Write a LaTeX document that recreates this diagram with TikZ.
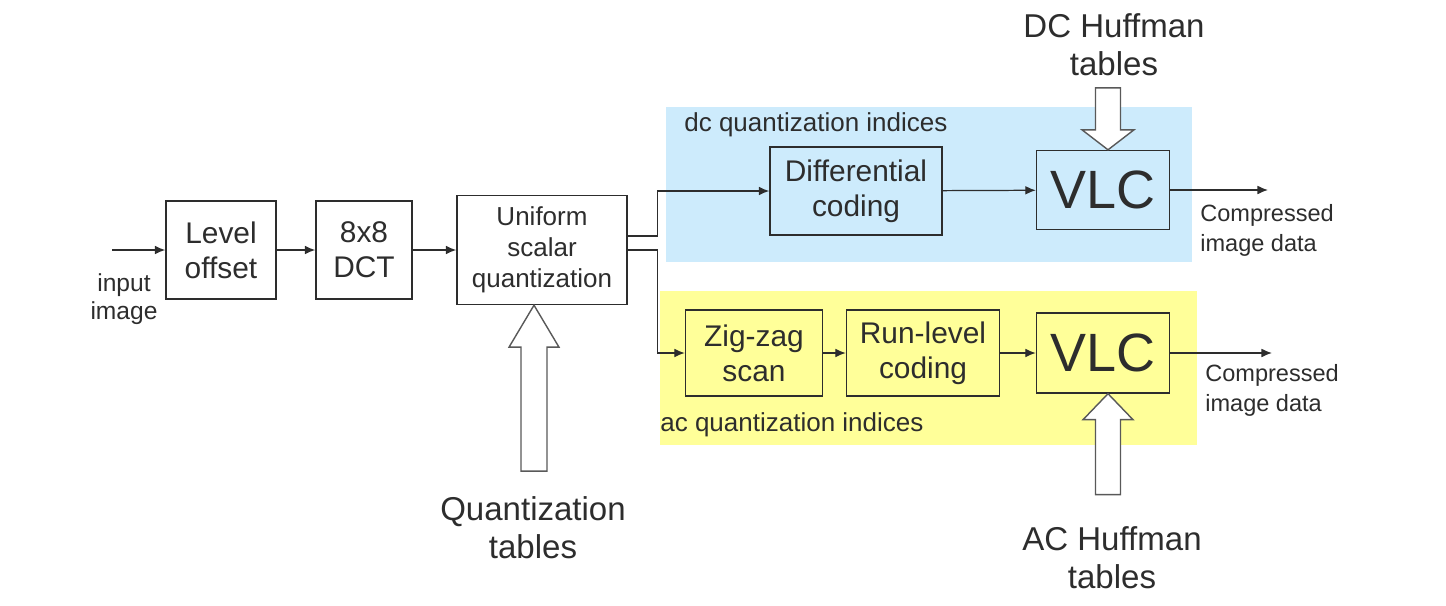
\documentclass[tikz,border=0pt]{standalone}
\usepackage{fontspec}
\setmainfont{Liberation Sans}
\usetikzlibrary{arrows.meta,calc}

\definecolor{dcblue}{RGB}{205,235,252}
\definecolor{acyellow}{RGB}{255,255,153}
\definecolor{inkgray}{RGB}{45,45,45}

\tikzset{
  blk/.style={draw=inkgray, line width=0.8pt, align=center, inner sep=0pt,
    font=\fontsize{17}{20}\selectfont},
  flow/.style={-{Latex[length=6pt,width=5pt]}, line width=0.7pt, draw=inkgray},
  hollow/.style={draw=gray!70!black, line width=0.8pt, fill=white},
  biglabel/.style={align=center, inner sep=0pt, font=\fontsize{18.8}{21.6}\selectfont},
  smalllabel/.style={align=left, inner sep=0pt, font=\fontsize{13.4}{17}\selectfont},
}

\begin{document}
\begin{tikzpicture}[x=0.02cm, y=-0.02cm, text=inkgray]
  \useasboundingbox (0,0) rectangle (1446,605);

  % coloured bands
  \fill[dcblue] (666,107) rectangle (1192,262);
  \fill[acyellow] (660,291) rectangle (1197,445);

  % main chain
  \node[blk, minimum width=2.2cm, minimum height=1.96cm] (lvl) at (221,250) {Level\\offset};
  \node[blk, minimum width=1.92cm, minimum height=1.96cm] (dct) at (364,250) {8x8\\DCT};
  \node[blk, minimum width=3.4cm, minimum height=2.18cm,
        font=\fontsize{14.8}{17.6}\selectfont] (quant) at (542,250) {Uniform\\scalar\\quantization};

  % dc branch
  \node[blk, minimum width=3.44cm, minimum height=1.76cm] (diff) at (856,191) {Differential\\coding};
  \node[blk, minimum width=2.66cm, minimum height=1.58cm,
        font=\fontsize{30.7}{34}\selectfont] (vlcdc) at (1103,190) {VLC};

  % ac branch
  \node[blk, minimum width=2.74cm, minimum height=1.72cm] (zig) at (754,353) {Zig-zag\\scan};
  \node[blk, minimum width=3.06cm, minimum height=1.72cm] (run) at (923,353) {Run-level\\coding};
  \node[blk, minimum width=2.66cm, minimum height=1.6cm,
        font=\fontsize{30.7}{34}\selectfont] (vlcac) at (1103,353) {VLC};

  % labels
  \node[smalllabel, align=center, font=\fontsize{14}{16}\selectfont] (inlbl) at (124,299) {input\\image};
  \node[smalllabel, anchor=west, font=\fontsize{14.8}{17}\selectfont] (dclbl) at (684,125) {dc quantization indices};
  \node[smalllabel, anchor=west, font=\fontsize{14.8}{17}\selectfont] (aclbl) at (660,425) {ac quantization indices};
  \node[smalllabel, anchor=west] (outdclbl) at (1200,230) {Compressed\\image data};
  \node[smalllabel, anchor=west] (outaclbl) at (1205,390) {Compressed\\image data};
  \node[biglabel] (qtab) at (533,528) {Quantization\\tables};
  \node[biglabel] (dctab) at (1114,45) {DC Huffman\\tables};
  \node[biglabel] (actab) at (1112,558) {AC Huffman\\tables};

  % free ends
  \coordinate (inp) at (112,250);
  \coordinate (outdc) at (1268,190);
  \coordinate (outac) at (1272,353);

  % connectors
  \draw[flow] (inp) -- (lvl.west);
  \draw[flow] (lvl) -- (dct);
  \draw[flow] (dct) -- (quant);
  \draw[flow] ($(quant.east)+(0,-14)$) -- ++(30,0) |- (diff.west);
  \draw[flow] (quant.east) -- ++(30,0) |- (zig.west);
  \draw[flow] (diff) -- (vlcdc);
  \draw[flow] (zig) -- (run);
  \draw[flow] (run) -- (vlcac);
  \draw[flow] (vlcdc) -- (outdc);
  \draw[flow] (vlcac) -- (outac);

  % hollow table arrows
  \coordinate (qtip) at ($(quant.south)+(-8,0)$);
  \draw[hollow] (qtip) -- ++(-25,42) -- ++(12,0) -- ++(0,124) -- ++(26,0)
    -- ++(0,-124) -- ++(12,0) -- cycle;
  \coordinate (dctip) at ($(vlcdc.north)+(5,0)$);
  \draw[hollow] (dctip) -- ++(-26,-20) -- ++(13.5,0) -- ++(0,-42) -- ++(25,0)
    -- ++(0,42) -- ++(13.5,0) -- cycle;
  \coordinate (actip) at ($(vlcac.south)+(5,0)$);
  \draw[hollow] (actip) -- ++(-25,26) -- ++(12.5,0) -- ++(0,75) -- ++(25,0)
    -- ++(0,-75) -- ++(12.5,0) -- cycle;
\end{tikzpicture}
\end{document}
